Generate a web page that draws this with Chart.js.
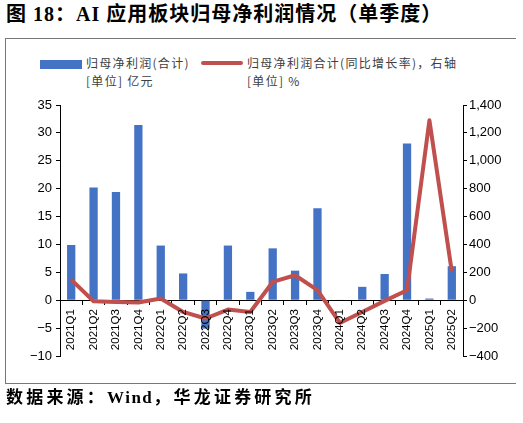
<!DOCTYPE html>
<html>
<head>
<meta charset="utf-8">
<script src="https://cdn.jsdelivr.net/npm/chart.js@4/dist/chart.umd.min.js"></script>
<style>
  html, body { margin: 0; padding: 0; background: #fff; }
  #wrap { position: relative; width: 523px; height: 423px; overflow: hidden; background: #fff; }
  #title { position: absolute; left: 6px; top: 1px; font-family: "Liberation Serif", "Noto Sans CJK SC", serif; font-weight: bold; font-size: 20px; letter-spacing: 1px; color: #000; white-space: nowrap; line-height: 26px; }
  #frame { position: absolute; left: 5px; top: 38px; width: 511px; height: 346px; border-top: 1.5px solid #777; border-left: 1.5px solid #777; border-bottom: 1.5px solid #777; box-sizing: border-box; }
  #footer { position: absolute; left: 6px; top: 386px; font-family: "Liberation Serif", "Noto Sans CJK SC", serif; font-weight: bold; font-size: 17px; letter-spacing: 3.2px; color: #000; white-space: nowrap; line-height: 24px; }
  #footer span { letter-spacing: 1.5px; }
  .lg { position: absolute; font-family: "Noto Sans CJK SC", sans-serif; font-size: 12px; letter-spacing: 1.3px; color: #404040; line-height: 18px; white-space: nowrap; }
  #sw1 { position: absolute; left: 40px; top: 59.5px; width: 42px; height: 9px; background: #4472C4; }
  #sw2 { position: absolute; left: 201px; top: 61px; width: 42px; height: 4px; background: #C0504D; border-radius: 2px; }
  canvas { position: absolute; left: 0; top: 0; }
</style>
</head>
<body>
<div id="wrap">
  <div id="title">图 18：AI 应用板块归母净利润情况（单季度）</div>
  <div id="frame"></div>
  <div id="sw1"></div>
  <div class="lg" style="left:86px; top:54px;">归母净利润(合计)<br>[单位] 亿元</div>
  <div id="sw2"></div>
  <div class="lg" style="left:247px; top:54px;">归母净利润合计(同比增长率)，右轴<br>[单位] %</div>
  <canvas id="c" width="523" height="423"></canvas>
  <div id="footer">数据来源：<span>Wind</span>，华龙证券研究所</div>
</div>
<script>
const categories = ['2021Q1','2021Q2','2021Q3','2021Q4','2022Q1','2022Q2','2022Q3','2022Q4','2023Q1','2023Q2','2023Q3','2023Q4','2024Q1','2024Q2','2024Q3','2024Q4','2025Q1','2025Q2'];
const netProfit = [9.9, 20.2, 19.4, 31.4, 9.8, 4.8, -5.1, 9.8, 1.5, 9.3, 5.3, 16.5, 0.1, 2.4, 4.7, 28.1, 0.3, 6.1];
const yoyGrowth = [148, -7, -12, -17, 12, -84, -131, -67, -84, 131, 179, 72, -163, -84, -5, 72, 1290, 205];
const leftTicks = { min: -10, max: 35, step: 5 };
const rightTicks = { min: -400, max: 1400, step: 200 };

function fmt(v) {
  const s = Math.abs(v).toLocaleString('en-US');
  return (v < 0 ? '\u2212' : '') + s;
}

new Chart(document.getElementById('c'), {
  data: {
    labels: categories,
    datasets: [
      {
        type: 'bar',
        label: '归母净利润(合计)',
        data: netProfit,
        backgroundColor: '#4472C4',
        yAxisID: 'y',
        order: 1,
        categoryPercentage: 1,
        barPercentage: 0.37
      },
      {
        type: 'line',
        label: '归母净利润合计(同比增长率)，右轴',
        data: yoyGrowth,
        borderColor: '#C0504D',
        backgroundColor: '#C0504D',
        borderWidth: 4,
        pointRadius: 0,
        tension: 0,
        borderJoinStyle: 'round',
        borderCapStyle: 'butt',
        yAxisID: 'y1',
        order: 0
      }
    ]
  },
  options: {
    responsive: false,
    animation: false,
    devicePixelRatio: 1,
    layout: { padding: { left: 0, right: 0, top: 105, bottom: 67 } },
    plugins: { legend: { display: false }, tooltip: { enabled: false }, title: { display: false } },
    scales: {
      x: {
        type: 'category',
        position: { y: 0 },
        offset: true,
        grid: { display: true, drawOnChartArea: false, drawTicks: true, tickLength: 4, tickColor: '#000', offset: true },
        border: { display: true, color: '#000', width: 1 },
        ticks: { minRotation: 90, maxRotation: 90, autoSkip: false, padding: 5, z: 1, color: '#000',
                 font: { family: 'Liberation Sans', size: 11.5 } },
        afterFit: (s) => { s.height = 0; }
      },
      y: {
        position: 'left',
        min: leftTicks.min, max: leftTicks.max,
        grid: { drawOnChartArea: false, drawTicks: true, tickLength: 4, tickColor: '#000' },
        border: { display: true, color: '#000', width: 1 },
        ticks: { stepSize: leftTicks.step, padding: 4, color: '#000', font: { family: 'Liberation Sans', size: 13 }, callback: (v) => fmt(v) },
        afterFit: (s) => { s.width = 60; }
      },
      y1: {
        position: 'right',
        min: rightTicks.min, max: rightTicks.max,
        grid: { drawOnChartArea: false, drawTicks: true, tickLength: 4, tickColor: '#000' },
        border: { display: true, color: '#000', width: 1 },
        ticks: { stepSize: rightTicks.step, padding: 2, color: '#000', font: { family: 'Liberation Sans', size: 13 }, callback: (v) => fmt(v) },
        afterFit: (s) => { s.width = 60; }
      }
    }
  }
});
</script>
</body>
</html>
